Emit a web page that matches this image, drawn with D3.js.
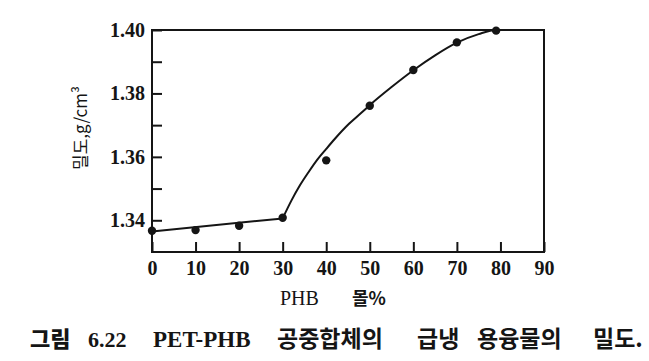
<!DOCTYPE html>
<html><head><meta charset="utf-8">
<script src="https://cdn.jsdelivr.net/npm/d3@7"></script>
<style>
html,body{margin:0;padding:0;background:#fff;}
svg{display:block;}
</style></head>
<body>
<svg id="c" width="649" height="361"></svg>
<script>
// ---- data ----
const phb = [0, 10, 20, 30, 40, 50, 60, 70, 79];
const density = [1.3367, 1.3369, 1.3383, 1.3408, 1.3589, 1.3761, 1.3874, 1.3961, 1.3998];
// fitted curve
const fitLowX = [0, 30];
const fitLowY = [1.3365, 1.3406];
const fitHighX = [30, 32, 34, 36, 38, 40, 42, 45, 48, 50, 55, 60, 65, 70, 75, 79, 90];
const fitHighY = [1.3406, 1.3462, 1.3511, 1.3553, 1.3592, 1.3625, 1.3657, 1.3701, 1.3738, 1.3763, 1.3820, 1.3873, 1.3920, 1.3960, 1.3987, 1.4000, 1.4000];
const xTicks = [0, 10, 20, 30, 40, 50, 60, 70, 80, 90];
const yMajor = [1.34, 1.36, 1.38, 1.40];
const yMinor = [1.35, 1.37, 1.39];
const xTitle = "PHB";
const xTitleKo = "몰%";
const yTitle = "밀도,g/cm³";
const captionParts = ["그림", "6.22", "PET-PHB", "공중합체의", "급냉", "용융물의", "밀도."];

const svg = d3.select("#c");
const L = 152, R = 544, T = 30, B = 252;
const x = d3.scaleLinear().domain([0, 90]).range([L, R]);
const y = d3.scaleLinear().domain([1.33, 1.40]).range([B, T]);
const ink = "#151515";
const serif = "'Liberation Serif', 'Times New Roman', serif";
const kr = "'Noto Sans CJK KR', sans-serif";

// frame
svg.append("rect").attr("x", L).attr("y", T).attr("width", R - L).attr("height", B - T)
  .attr("fill", "none").attr("stroke", ink).attr("stroke-width", 2);

// axes
function styleAxis(g) {
  g.select(".domain").remove();
  g.selectAll("line").attr("stroke", ink).attr("stroke-width", 2);
  g.selectAll("text").attr("fill", ink).style("font-family", serif)
    .style("font-size", "20px").style("font-weight", "bold");
}
svg.append("g").attr("transform", `translate(0,${B})`)
  .call(d3.axisBottom(x).tickValues(xTicks).tickSize(-10).tickPadding(9).tickFormat(d3.format("d")))
  .call(styleAxis);
svg.append("g").attr("transform", `translate(${L},0)`)
  .call(d3.axisLeft(y).tickValues(yMajor).tickSize(-10).tickPadding(7).tickFormat(d3.format(".2f")))
  .call(styleAxis);
svg.append("g").attr("transform", `translate(${L},0)`)
  .call(d3.axisLeft(y).tickValues(yMinor).tickSize(-10).tickFormat(""))
  .call(styleAxis);

// fit lines
const lowPts = fitLowX.map((d, i) => [d, fitLowY[i]]);
const highPts = fitHighX.map((d, i) => [d, fitHighY[i]]);
svg.append("path").datum(lowPts)
  .attr("d", d3.line().x(d => x(d[0])).y(d => y(d[1])))
  .attr("fill", "none").attr("stroke", ink).attr("stroke-width", 2);
svg.append("path").datum(highPts)
  .attr("d", d3.line().x(d => x(d[0])).y(d => y(d[1])).curve(d3.curveMonotoneX))
  .attr("fill", "none").attr("stroke", ink).attr("stroke-width", 2);

// points
svg.append("g").selectAll("circle").data(phb).join("circle")
  .attr("cx", d => x(d)).attr("cy", (d, i) => y(density[i])).attr("r", 4.2)
  .attr("fill", ink);

// y title
svg.append("text").attr("transform", "translate(87,128) rotate(-90)")
  .attr("text-anchor", "middle").attr("fill", ink)
  .style("font-family", kr).style("font-size", "17px")
  .text(yTitle);

// x title
svg.append("text").attr("x", 280).attr("y", 305).attr("fill", ink)
  .style("font-family", serif).style("font-size", "20px").text(xTitle);
svg.append("text").attr("x", 352).attr("y", 305).attr("fill", ink)
  .style("font-family", kr).style("font-size", "18px").style("font-weight", "bold")
  .text(xTitleKo);

// caption
const capX = [30, 88, 153, 277, 417, 477, 593];
const capFont = [kr, serif, serif, kr, kr, kr, kr];
const capSize = [22, 22, 23, 23, 23, 23, 23];
const capW = ["900", "bold", "bold", "bold", "bold", "bold", "bold"];
const cap = svg.append("text").attr("y", 347).attr("fill", ink);
captionParts.forEach((t, i) => {
  cap.append("tspan").attr("x", capX[i]).style("font-family", capFont[i])
    .style("font-size", capSize[i] + "px").style("font-weight", capW[i]).text(t);
});
</script>
</body></html>
